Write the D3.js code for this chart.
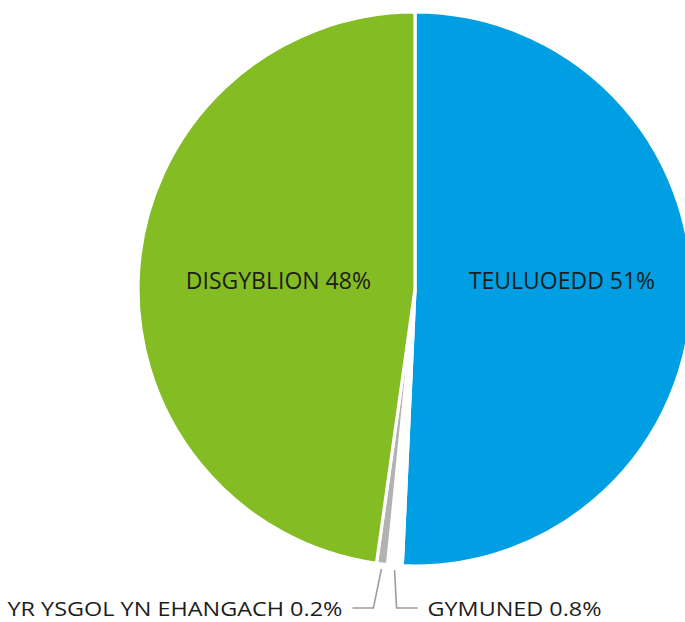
<html>
<head>
<style>
  body { margin: 0; background: #fff; }
  text { font-family: "Open Sans", "Noto Sans", sans-serif; fill: #1d1d1b; }
</style>
<script src="https://d3js.org/d3.v7.min.js"></script>
</head>
<body>
<svg id="chart" width="685" height="622"></svg>
<script>
// slices clockwise from 12 o'clock
var names  = ["TEULUOEDD", "GYMUNED", "YR YSGOL YN EHANGACH", "DISGYBLION"];
var labels = ["51%", "0.8%", "0.2%", "48%"];
// shares as drawn in the picture (angles)
var shares = [50.73, 0.85, 0.64, 47.78];
var colors = ["#009fe3", "#ffffff", "#b2b2b2", "#84bc24"];

var cx = 415, cy = 289, r = 277;

var svg = d3.select("#chart");
var g = svg.append("g").attr("transform", "translate(" + cx + "," + cy + ")");

var pie = d3.pie().sort(null).value(function(d) { return d; });
var arcs = pie(shares);
var arc = d3.arc().innerRadius(0).outerRadius(r);

g.selectAll("path.slice")
  .data(arcs).enter()
  .append("path")
  .attr("class", "slice")
  .attr("d", arc)
  .attr("fill", function(d, i) { return colors[i]; })
  .attr("stroke", "#fff")
  .attr("stroke-width", 3.2);

// big labels inside the two main slices
var labelArc = d3.arc().innerRadius(146).outerRadius(146);
[0, 3].forEach(function(i) {
  var c = labelArc.centroid(arcs[i]);
  g.append("text")
    .attr("x", c[0] + (i == 3 ? 9 : 1))
    .attr("y", 0)
    .attr("text-anchor", "middle")
    .attr("font-size", 23)
    .text(names[i] + " " + labels[i]);
});

// small slices: leader lines down to labels under the pie
var leaderY = 319, textY = 327;
var small = [
  { i: 1, dx: 2, end: 21, side: 1, len: 174 },
  { i: 2, dx: -8, end: -21, side: -1, len: 335 }
];
small.forEach(function(s) {
  var a = (arcs[s.i].startAngle + arcs[s.i].endAngle) / 2;
  var x0 = (r + 5) * Math.sin(a), y0 = -(r + 5) * Math.cos(a);
  var x1 = x0 + s.dx;
  g.append("path")
    .attr("d", "M" + x0 + "," + y0 + "L" + x1 + "," + leaderY + "L" + (x1 + s.end) + "," + leaderY)
    .attr("fill", "none")
    .attr("stroke", "#9d9d9c")
    .attr("stroke-width", 1.6);
  g.append("text")
    .attr("x", x1 + s.end + s.side * 10)
    .attr("y", textY)
    .attr("text-anchor", s.side > 0 ? "start" : "end")
    .attr("font-size", 20)
    .attr("textLength", s.len)
    .attr("lengthAdjust", "spacingAndGlyphs")
    .text(names[s.i] + " " + labels[s.i]);
});
</script>
</body>
</html>
